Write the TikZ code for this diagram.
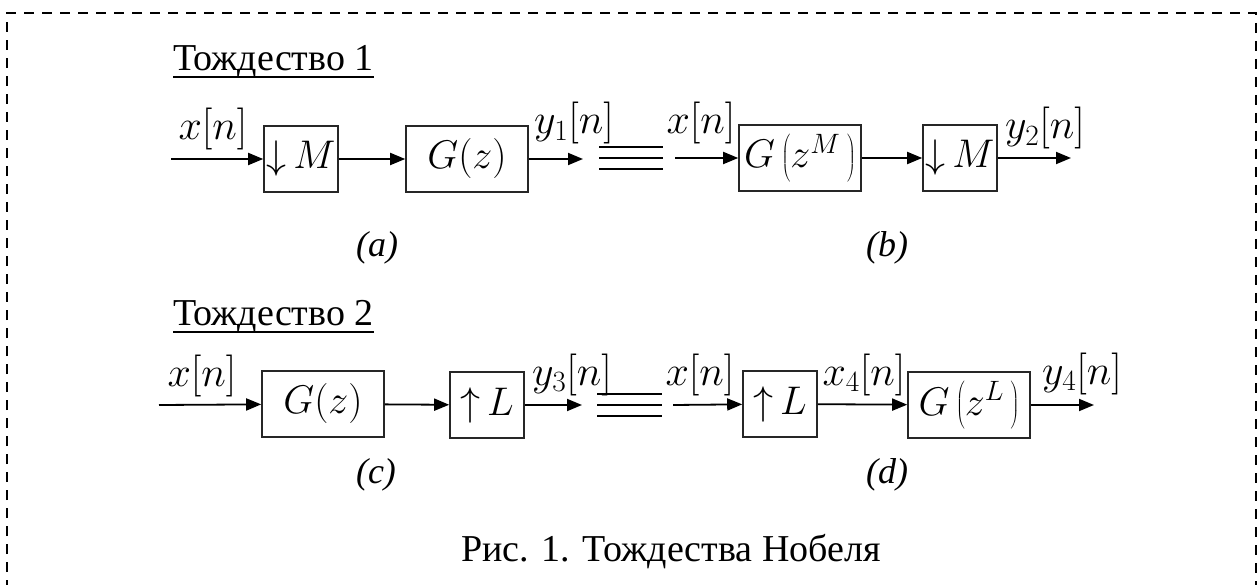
\RequirePackage{fix-cm}
\documentclass[tikz,border=0pt]{standalone}
\usepackage{fontspec}
\setmainfont{Liberation Serif}
\usetikzlibrary{arrows.meta,calc}
\begin{document}
\begin{tikzpicture}[x=1pt,y=-1pt,
  blk/.style={draw=black!85, line width=1.6pt, minimum height=66pt, inner sep=0pt, font=\fontsize{40}{48}\selectfont},
  sig/.style={line width=1.8pt, -{Triangle[length=15pt,width=12pt]}},
  lbl/.style={anchor=base, inner sep=0pt, font=\fontsize{42}{50}\selectfont},
  ttl/.style={anchor=base west, inner sep=0pt, font=\fontsize{38}{46}\selectfont},
  sublbl/.style={anchor=base, inner sep=0pt, font=\fontsize{36}{42}\selectfont\itshape},
  eqv/.style={line width=1.8pt},
  uline/.style={line width=1.5pt}]

\useasboundingbox (0,0) rectangle (1258,585);

% dashed frame
\draw[dash pattern=on 10pt off 8pt, line width=2pt] (7,590) -- (7,13) -- (1256,13) -- (1256,590);

% titles
\node[ttl] (t1) at (173,71) {Тождество 1};
\draw[uline] ($(t1.base west)+(0,6)$) -- ($(t1.base east)+(0,6)$);
\node[ttl] (t2) at (173,326) {Тождество 2};
\draw[uline] ($(t2.base west)+(0,6)$) -- ($(t2.base east)+(0,6)$);

% ---------- row 1 ----------
\coordinate (i1) at (171,159);
\node[blk, minimum width=74pt] (dm1) at (301,159) {$\mathord{\downarrow}\,M$};
\node[blk, minimum width=122pt] (g1) at (467,159) {$G(z)$};
\coordinate (o1) at (583,159);
\coordinate (i1b) at (675,158);
\node[blk, minimum width=122pt] (gm) at (800,158) {$G\left(z^{M}\,\right)$};
\node[blk, minimum width=74pt] (dm2) at (960,158) {$\mathord{\downarrow}\,M$};
\coordinate (o1b) at (1071,158);

\draw[sig] (i1) -- (dm1);
\draw[sig] (dm1) -- (g1);
\draw[sig] (g1) -- (o1);
\draw[sig] (i1b) -- (gm);
\draw[sig] (gm) -- (dm2);
\draw[sig] (dm2) -- (o1b);

\draw[eqv] (599,147) -- (663,147);
\draw[eqv] (599,158) -- (663,158);
\draw[eqv] (599,169) -- (663,169);

\node[lbl] (lx1) at (213,140) {$x[n]$};
\node[lbl] (ly1) at (574,134) {$y_1[n]$};
\node[lbl] (lx1b) at (701,134) {$x[n]$};
\node[lbl] (ly2) at (1045,139) {$y_2[n]$};

\node[sublbl] (la) at (377,257) {(a)};
\node[sublbl] (lb) at (887,257) {(b)};

% ---------- row 2 ----------
\coordinate (i2) at (159,405);
\node[blk, minimum width=122pt] (g2) at (323,404) {$G(z)$};
\node[blk, minimum width=74pt] (ul1) at (487,405) {$\mathord{\uparrow}\,L$};
\coordinate (o2) at (582,405);
\coordinate (i2b) at (673,405);
\node[blk, minimum width=74pt] (ul2) at (780,404) {$\mathord{\uparrow}\,L$};
\node[blk, minimum width=122pt] (gl) at (969,405) {$G\left(z^{L}\,\right)$};
\coordinate (o2b) at (1094,405);

\draw[sig] (i2) -- (g2);
\draw[sig] (g2) -- (ul1);
\draw[sig] (ul1) -- (o2);
\draw[sig] (i2b) -- (ul2);
\draw[sig] (ul2) -- (gl);
\draw[sig] (gl) -- (o2b);

\draw[eqv] (597,394) -- (662,394);
\draw[eqv] (597,405) -- (662,405);
\draw[eqv] (597,416) -- (662,416);

\node[lbl] (lx2) at (202,386) {$x[n]$};
\node[lbl] (ly3) at (572,385) {$y_3[n]$};
\node[lbl] (lx2b) at (700,385) {$x[n]$};
\node[lbl] (lx4) at (864,385) {$x_4[n]$};
\node[lbl] (ly4) at (1082,384) {$y_4[n]$};

\node[sublbl] (lc) at (376,483) {(c)};
\node[sublbl] (ld) at (887,483) {(d)};

% caption
\node[anchor=base, inner sep=0pt, font=\fontsize{38}{46}\selectfont] (cap) at (671,561) {Рис. 1. Тождества Нобеля};
\end{tikzpicture}
\end{document}
